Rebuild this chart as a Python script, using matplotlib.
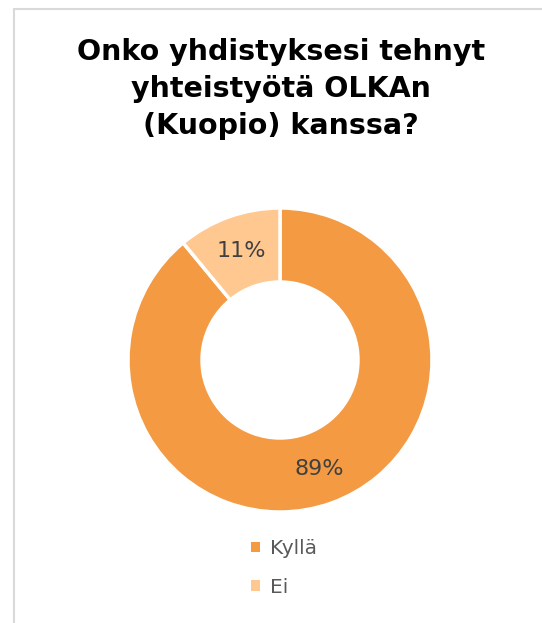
import matplotlib.pyplot as plt
from matplotlib.patches import Patch, Rectangle

TITLE = "Onko yhdistyksesi tehnyt\nyhteistyötä OLKAn\n(Kuopio) kanssa?"
categories = ["Kyllä", "Ei"]
shares = [89, 11]
colors = ["#F39A43", "#FFC891"]

W, H = 542, 623


def main() -> None:
    fig = plt.figure(figsize=(W / 100, H / 100), dpi=100)
    ax = fig.add_axes([0, 0, 1, 1])

    # chart frame (light gray border, runs off the right/bottom edge)
    ax.add_patch(Rectangle((14, -10), W + 20, H - 9 + 10, fill=False,
                           edgecolor="#D9D9D9", linewidth=1.5))

    ax.pie(
        shares,
        colors=colors,
        center=(280, H - 360),
        radius=152,
        startangle=90,
        counterclock=False,
        autopct=lambda p: f"{p:.0f}%",
        pctdistance=0.76,
        wedgeprops=dict(width=74, edgecolor="white", linewidth=2.5),
        textprops=dict(fontsize=16, color="#404040"),
        frame=True,
    )
    ax.axis("off")
    ax.set_xlim(0, W)
    ax.set_ylim(0, H)
    ax.set_aspect("equal")

    ax.text(281, H - 89, TITLE, ha="center", va="center", fontsize=20.5,
            fontweight="bold", color="black", linespacing=1.42)

    handles = [Patch(facecolor=c, edgecolor="none") for c in colors]
    fig.legend(handles, categories, loc="center left",
               bbox_to_anchor=(233 / W, 1 - 568 / H), frameon=False,
               fontsize=14.5, labelcolor="#595959", handlelength=0.42,
               handleheight=0.42, handletextpad=0.5, labelspacing=0.95)

    fig.savefig("out.png", dpi=100)
    plt.close(fig)


if __name__ == "__main__":
    main()
